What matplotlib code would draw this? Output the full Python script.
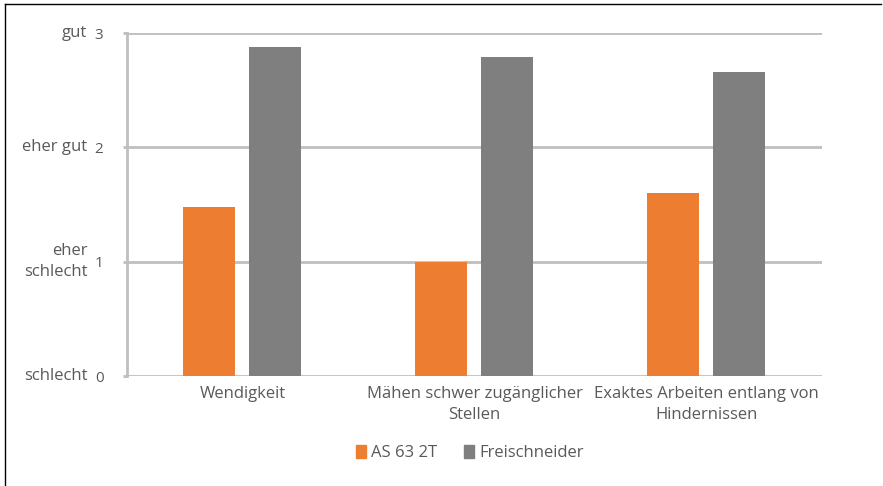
import matplotlib
matplotlib.use("Agg")
import matplotlib.pyplot as plt
from matplotlib.lines import Line2D
from matplotlib.patches import Patch
import numpy as np

plt.rcParams["font.family"] = ["Open Sans", "DejaVu Sans"]

TEXT = "#595959"
GRID = "#bfbfbf"
ORANGE = "#ed7d31"
GRAY = "#7f7f7f"

categories = ["Wendigkeit", "Mähen schwer zugänglicher\nStellen",
              "Exaktes Arbeiten entlang von\nHindernissen"]
as63 = [1.48, 1.0, 1.60]
freischneider = [2.88, 2.79, 2.66]
y_ticks = [0, 1, 2, 3]
y_words = ["schlecht", "eher\nschlecht", "eher gut", "gut"]
series_names = ["AS 63 2T", "Freischneider"]

fig = plt.figure(figsize=(8.83, 4.86), dpi=100)
W, H = 883, 486
ax = fig.add_axes([127 / W, 1 - 376 / H, (822 - 127) / W, (376 - 33) / H])

x = np.arange(len(categories))
width = 0.225
ax.bar(x - 0.145, as63, width, color=ORANGE, zorder=3)
ax.bar(x + 0.14, freischneider, width, color=GRAY, zorder=3)

ax.set_xlim(-0.5, 2.5)
ax.set_ylim(0, 3)
ax.set_yticks(y_ticks)
ax.yaxis.grid(True, color=GRID, linewidth=2, zorder=0)
ax.tick_params(axis="y", length=3, color=GRID, width=2, labelsize=11,
               labelcolor=TEXT, pad=14)
ax.set_yticklabels([str(t) for t in y_ticks])
ax.set_xticks(x)
ax.set_xticklabels(categories, fontsize=12, color=TEXT, linespacing=1.45)
ax.tick_params(axis="x", length=0, pad=7)
for s in ["top", "right", "bottom"]:
    ax.spines[s].set_visible(False)
ax.spines["left"].set_color(GRID)
ax.spines["left"].set_linewidth(2)

for t, w in zip(y_ticks, y_words):
    ax.text(-0.057, t, w, transform=ax.get_yaxis_transform(), ha="right",
            va="center", fontsize=12, color=TEXT, linespacing=1.4)

handles = [Patch(color=ORANGE), Patch(color=GRAY)]
fig.legend(handles, series_names, loc="center", bbox_to_anchor=(470 / W, 1 - 453 / H),
           ncol=2, frameon=False, fontsize=12, labelcolor=TEXT,
           handlelength=0.6, handleheight=0.8, handletextpad=0.3, columnspacing=1.6)

# frame lines at top and left
fig.add_artist(Line2D([5 / W, 881 / W], [1 - 4 / H, 1 - 4 / H], color="black", linewidth=1))
fig.add_artist(Line2D([5 / W, 5 / W], [0, 1 - 4 / H], color="black", linewidth=1))

fig.savefig("out.png", dpi=100, facecolor="white")
